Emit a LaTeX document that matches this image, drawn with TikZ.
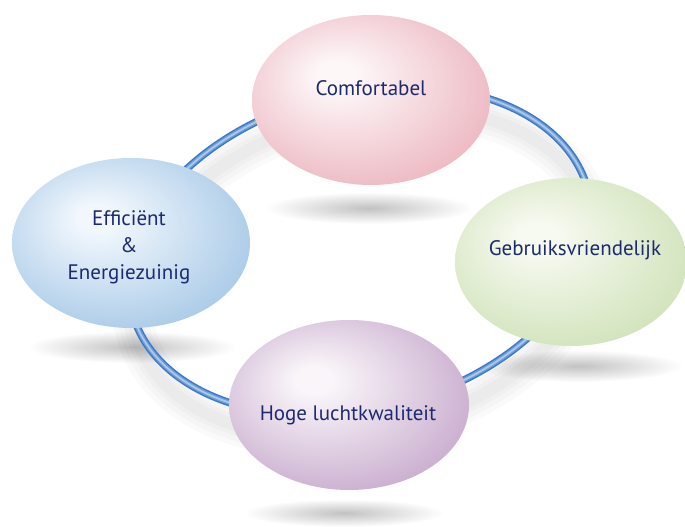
\documentclass[tikz,border=0pt]{standalone}
\usepackage{fontspec}
\setmainfont{PT Sans}
\usetikzlibrary{shapes.geometric}
\definecolor{navy}{RGB}{28,42,110}
\definecolor{pinkL}{RGB}{253,247,248}
\definecolor{pinkD}{RGB}{234,174,185}
\definecolor{blueL}{RGB}{241,247,253}
\definecolor{blueD}{RGB}{158,195,228}
\definecolor{greenL}{RGB}{247,250,241}
\definecolor{greenD}{RGB}{203,223,178}
\definecolor{purpL}{RGB}{249,245,249}
\definecolor{purpD}{RGB}{194,162,200}
\definecolor{ringD}{RGB}{62,122,194}
\definecolor{ringM}{RGB}{110,158,218}
\definecolor{ringL}{RGB}{170,200,238}
\pgfdeclareradialshading{pinkball}{\pgfpoint{-8bp}{8bp}}{color(0bp)=(pinkL); color(4bp)=(pinkL); color(35bp)=(pinkD); color(50bp)=(pinkD)}
\pgfdeclareradialshading{blueball}{\pgfpoint{-8bp}{8bp}}{color(0bp)=(blueL); color(4bp)=(blueL); color(35bp)=(blueD); color(50bp)=(blueD)}
\pgfdeclareradialshading{greenball}{\pgfpoint{-8bp}{8bp}}{color(0bp)=(greenL); color(4bp)=(greenL); color(35bp)=(greenD); color(50bp)=(greenD)}
\pgfdeclareradialshading{purpball}{\pgfpoint{-8bp}{8bp}}{color(0bp)=(purpL); color(4bp)=(purpL); color(35bp)=(purpD); color(50bp)=(purpD)}
\tikzset{
  ball/.style={ellipse, inner sep=0pt, minimum width=238pt, minimum height=170pt, shade},
  shadowblob/.style={inner color=black!24, outer color=white},
  lbl/.style={text=navy, font=\fontsize{21}{27}\selectfont, align=center},
  ringpath/.style={rotate around={15:(360,276)}},
}
\begin{document}
\begin{tikzpicture}[x=1pt,y=1pt]
\useasboundingbox (0,0) rectangle (685,527);
% shadows under the spheres
\shade[shadowblob] (369,319) ellipse [x radius=104, y radius=16];
\shade[shadowblob] (132,180) ellipse [x radius=104, y radius=16];
\shade[shadowblob] (579,161) ellipse [x radius=104, y radius=16];
\shade[shadowblob] (344,14) ellipse [x radius=100, y radius=14];
% soft shadow of the ring
\foreach \w in {40,30,20,12}{
  \draw[black, opacity=0.02, line width=\w pt, rotate around={15:(364,254)}] (364,254) ellipse [x radius=236, y radius=158];
}
% ring (tube)
\draw[ringD, line width=7.5pt, ringpath] (360,276) ellipse [x radius=236, y radius=158];
\draw[ringM, line width=4.5pt, ringpath] (360,276) ellipse [x radius=236, y radius=158];
\draw[ringL, line width=1.8pt, ringpath] (360,276) ellipse [x radius=236, y radius=158];
% spheres
\node[ball, shading=pinkball] (comf) at (371,427) {};
\node[ball, shading=blueball] (eff) at (131,284) {};
\node[ball, shading=greenball, minimum width=232pt, minimum height=168pt] (geb) at (571,265) {};
\node[ball, shading=purpball, minimum width=240pt] (hoge) at (349,122) {};
% labels
\node[lbl, anchor=base] (tcomf) at (371,431) {Comfortabel};
\node[lbl] (teff) at (129,280) {Efficiënt\\\&\\Energiezuinig};
\node[lbl, anchor=base] (tgeb) at (575,271) {Gebruiksvriendelijk};
\node[lbl, anchor=base] (thoge) at (348,106) {Hoge luchtkwaliteit};
\end{tikzpicture}
\end{document}
